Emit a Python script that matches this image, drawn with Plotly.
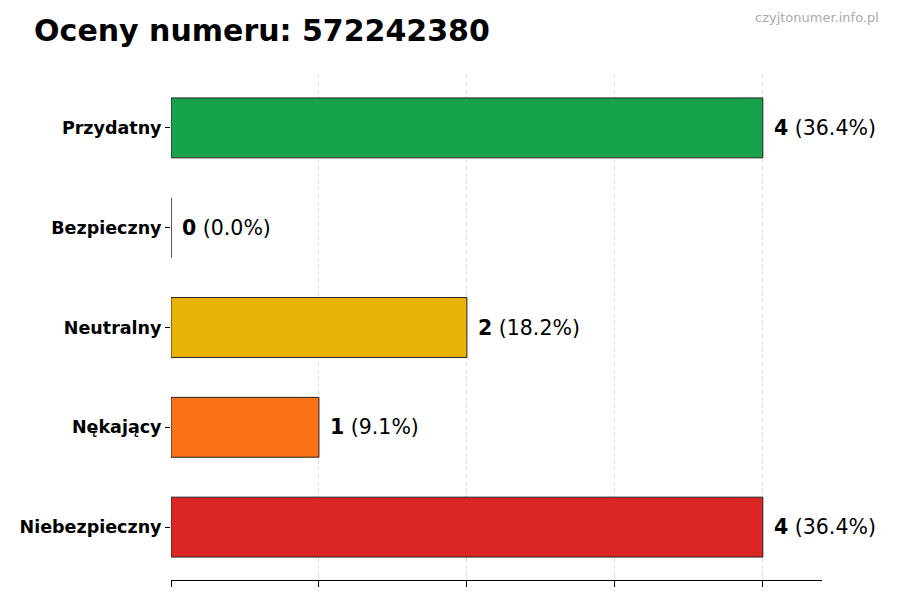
import plotly.graph_objects as go

categories = ["Niebezpieczny", "Nękający", "Neutralny", "Bezpieczny", "Przydatny"]
values = [4, 1, 2, 0, 4]
percents = ["36.4%", "9.1%", "18.2%", "0.0%", "36.4%"]
colors = ["#dc2626", "#f97316", "#eab308", "#16a34a", "#16a34a"]

fig = go.Figure()
fig.add_trace(go.Bar(
    y=list(range(len(categories))), x=values, orientation="h", width=0.6,
    marker=dict(color=colors, line=dict(color="#222", width=1)),
    hoverinfo="skip"))

for i, (v, p) in enumerate(zip(values, percents)):
    fig.add_annotation(x=v, y=i, text=f"<b>{v}</b> ({p})", showarrow=False,
                       xanchor="left", xshift=9,
                       font=dict(family="DejaVu Sans", size=20.5, color="black"))

fig.add_annotation(xref="paper", yref="paper", x=1.0, y=1.0, xanchor="right", yanchor="middle",
                   text="czyjtonumer.info.pl", showarrow=False, yshift=58, xshift=59,
                   font=dict(family="DejaVu Sans", size=13, color="#aaaaaa"))

fig.update_layout(
    width=900, height=600, plot_bgcolor="white", paper_bgcolor="white",
    margin=dict(l=163, r=86, t=67, b=28),
    showlegend=False,
    title=dict(text="<b>Oceny numeru: 572242380</b>", x=0.029, y=0.962, xanchor="left",
               yanchor="middle", font=dict(family="DejaVu Sans", size=30, color="black")),
    xaxis=dict(range=[0, 4.4], tickvals=[0, 1, 2, 3, 4], showticklabels=False,
               ticks="outside", ticklen=6, tickcolor="black",
               showgrid=True, gridcolor="#dddddd", griddash="4px,3px", gridwidth=1,
               showline=True, linecolor="black", zeroline=False),
    yaxis=dict(range=[-0.53, 4.53], tickvals=list(range(len(categories))),
               ticktext=[f"<b>{c}</b>" for c in categories],
               ticks="outside", ticklen=5, tickcolor="black",
               tickfont=dict(family="DejaVu Sans", size=17.5, color="black"),
               showgrid=False, zeroline=False, showline=False, automargin=False),
)
fig.write_html("out.html")
